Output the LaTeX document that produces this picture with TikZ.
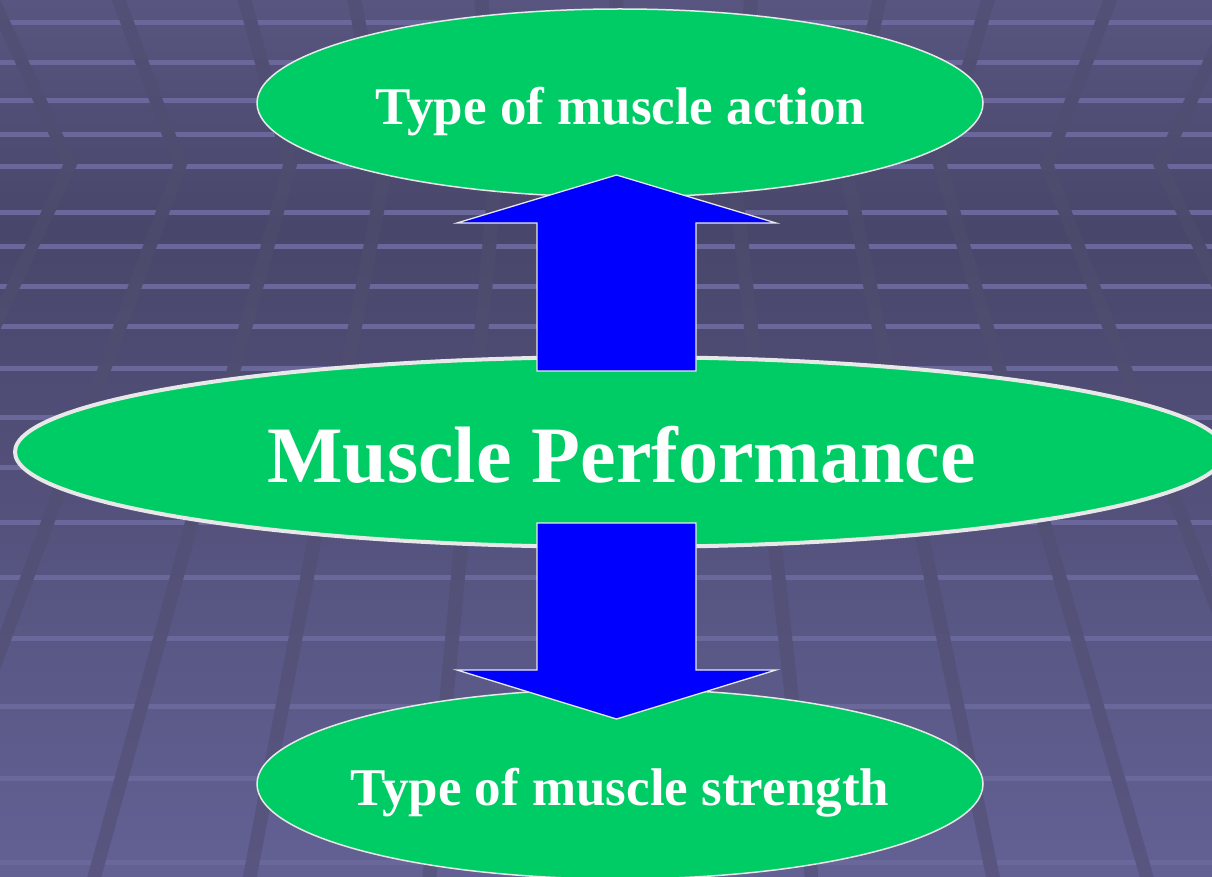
\documentclass[tikz,border=0pt]{standalone}
\usepackage{fontspec}
\setmainfont{Liberation Serif}
\usetikzlibrary{shapes.geometric,calc}
\definecolor{bgtop}{RGB}{88,86,128}
\definecolor{bgmid}{RGB}{72,70,106}
\definecolor{bgbot}{RGB}{99,97,148}
\definecolor{bdtop}{RGB}{82,80,118}
\definecolor{bdmid}{RGB}{76,74,108}
\definecolor{bdbot}{RGB}{88,86,128}
\definecolor{linec}{RGB}{106,104,154}
\definecolor{ovalgreen}{RGB}{0,204,102}
\definecolor{rimgray}{RGB}{232,232,232}
\pgfdeclareverticalshading{bgshade}{100bp}{color(0bp)=(bgbot); color(25bp)=(bgbot); color(62bp)=(bgmid); color(75bp)=(bgtop); color(100bp)=(bgtop)}
\pgfdeclareverticalshading{bandshade}{100bp}{color(0bp)=(bdbot); color(25bp)=(bdbot); color(62bp)=(bdmid); color(75bp)=(bdtop); color(100bp)=(bdtop)}
\tikzset{
  oval/.style={ellipse, fill=ovalgreen, draw=rimgray, inner sep=0pt, outer sep=0pt},
  blockarrow/.style={fill=blue, draw=rimgray, line width=1.3pt, line join=miter},
  txt/.style={text=white, inner sep=0pt, anchor=base},
  gridline/.style={linec, line width=5pt},
}
\begin{document}
\begin{tikzpicture}[x=1pt, y=-1pt]
\useasboundingbox (0,0) rectangle (1212,877);
\clip (0,0) rectangle (1212,877);
% background
\shade[shading=bgshade] (0,0) rectangle (1212,877);
\foreach \yy in {23,63,101,135,167,213,247,286,326,368,417,467,522,577,638,706,778,862}{
  \draw[gridline] (0,\yy) -- (1212,\yy);
}
\foreach \xo in {70,180,290,386,497,615,733,845,940,1047,1160}{
  \pgfmathsetmacro{\xt}{\xo+(\xo-606)/1150*165}
  \pgfmathsetmacro{\xb}{\xo+(\xo-606)/1150*712}
  \shade[shading=bandshade] (\xt-7,0) -- (\xt+7,0) -- (\xo+7,165) -- (\xb+7,877) -- (\xb-7,877) -- (\xo-7,165) -- cycle;
}
% ovals
\node[oval, line width=1.5pt, minimum width=726pt, minimum height=188pt] (action) at (620,103) {};
\node[oval, line width=4pt, minimum width=1210pt, minimum height=190pt] (perf) at (620,452) {};
\node[oval, line width=1.5pt, minimum width=726pt, minimum height=190pt] (strength) at (620,784) {};
% block arrows
\coordinate (upTip) at (616.5,175);
\coordinate (upTail) at (616.5,371);
\draw[blockarrow] (upTip) -- ($(upTip)+(159.5,48)$) -- ($(upTip)+(79.5,48)$) -- ($(upTail)+(79.5,0)$) -- ($(upTail)+(-79.5,0)$) -- ($(upTip)+(-79.5,48)$) -- ($(upTip)+(-159.5,48)$) -- cycle;
\coordinate (dnTail) at (616.5,523);
\coordinate (dnTip) at (616.5,719);
\draw[blockarrow] (dnTip) -- ($(dnTip)+(159.5,-49)$) -- ($(dnTip)+(79.5,-49)$) -- ($(dnTail)+(79.5,0)$) -- ($(dnTail)+(-79.5,0)$) -- ($(dnTip)+(-79.5,-49)$) -- ($(dnTip)+(-159.5,-49)$) -- cycle;
% texts
\node[txt, font=\bfseries\fontsize{53}{60}\selectfont] (actiontxt) at (620.5,125) {Type of muscle action};
\node[txt, font=\bfseries\fontsize{80}{90}\selectfont] (perftxt) at (621.5,482) {Muscle Performance};
\node[txt, font=\bfseries\fontsize{53}{60}\selectfont] (strengthtxt) at (620,805) {Type of muscle strength};
\end{tikzpicture}
\end{document}
